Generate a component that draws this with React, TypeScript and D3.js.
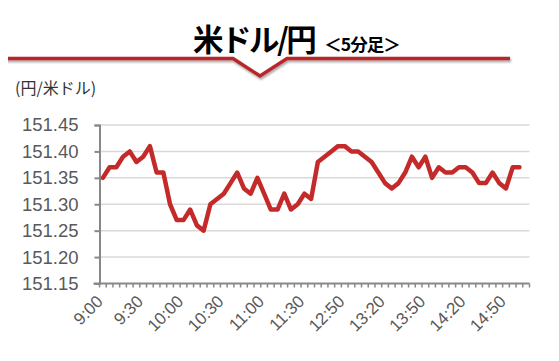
import { useEffect, useRef } from "react";
import * as d3 from "d3";

const W = 559;
const H = 361;
const RED = "#c42a2a";
const TEXT = "#595959";

// 5-minute bars, morning + afternoon sessions
const times = [
  "9:00", "9:05", "9:10", "9:15", "9:20", "9:25", "9:30", "9:35", "9:40", "9:45", "9:50", "9:55",
  "10:00", "10:05", "10:10", "10:15", "10:20", "10:25", "10:30", "10:35", "10:40", "10:45", "10:50", "10:55",
  "11:00", "11:05", "11:10", "11:15", "11:20", "11:25", "11:30", "11:35",
  "12:30", "12:35", "12:40", "12:45", "12:50", "12:55", "13:00", "13:05", "13:10", "13:15",
  "13:20", "13:25", "13:30", "13:35", "13:40", "13:45", "13:50", "13:55", "14:00", "14:05",
  "14:10", "14:15", "14:20", "14:25", "14:30", "14:35", "14:40", "14:45", "14:50", "14:55",
  "15:00", "15:05",
];

const prices = [
  151.35, 151.37, 151.37, 151.39, 151.40, 151.38, 151.39, 151.41, 151.36, 151.36,
  151.30, 151.27, 151.27, 151.29, 151.26, 151.25, 151.30, 151.31, 151.32, 151.34,
  151.36, 151.33, 151.32, 151.35, 151.32, 151.29, 151.29, 151.32, 151.29, 151.30,
  151.32, 151.31, 151.38, 151.39, 151.40, 151.41, 151.41, 151.40, 151.40, 151.39,
  151.38, 151.36, 151.34, 151.33, 151.34, 151.36, 151.39, 151.37, 151.39, 151.35,
  151.37, 151.36, 151.36, 151.37, 151.37, 151.36, 151.34, 151.34, 151.36, 151.34,
  151.33, 151.37, 151.37,
];

const yTicks = [151.15, 151.2, 151.25, 151.3, 151.35, 151.4, 151.45];
const labelEvery = 6;

export default function App() {
  const ref = useRef<SVGSVGElement>(null);

  useEffect(() => {
    const svg = d3.select(ref.current);
    svg.selectAll("*").remove();

    const left = 99.5;
    const right = 529.5;
    const top = 125;
    const bottom = 283.5;

    const x = d3.scaleBand<string>().domain(times).range([left, right]);
    const y = d3.scaleLinear().domain([151.15, 151.45]).range([bottom, top]);

    // header
    const defs = svg.append("defs");
    defs
      .append("filter")
      .attr("id", "shadow")
      .attr("x", "-5%")
      .attr("y", "-50%")
      .attr("width", "110%")
      .attr("height", "200%")
      .append("feDropShadow")
      .attr("dx", 1)
      .attr("dy", 2)
      .attr("stdDeviation", 1.2)
      .attr("flood-color", "#000")
      .attr("flood-opacity", 0.35);

    svg
      .append("path")
      .attr("d", "M4,58.5 L233,58.5 L260,76 L287,58.5 L510,58.5")
      .attr("fill", "none")
      .attr("stroke", "#b8282a")
      .attr("stroke-width", 3.5)
      .attr("filter", "url(#shadow)");

    const title = svg
      .append("text")
      .attr("x", 193)
      .attr("y", 51)
      .attr("font-family", "'Noto Sans CJK JP', sans-serif")
      .attr("fill", "#000");
    title
      .append("tspan")
      .attr("font-size", 30.5)
      .attr("font-weight", 700)
      .attr("letter-spacing", -2.5)
      .text("米ドル/円");
    title
      .append("tspan")
      .attr("dx", 10)
      .attr("font-size", 17.5)
      .attr("font-weight", 700)
      .attr("letter-spacing", -1)
      .text("＜5分足＞");

    svg
      .append("text")
      .attr("x", 15)
      .attr("y", 94)
      .attr("font-family", "'Noto Sans CJK JP', sans-serif")
      .attr("font-size", 16)
      .attr("fill", "#333")
      .text("(円/米ドル)");

    // grid
    svg
      .append("g")
      .selectAll("line")
      .data(yTicks.slice(1))
      .join("line")
      .attr("x1", left)
      .attr("x2", right)
      .attr("y1", (d) => y(d))
      .attr("y2", (d) => y(d))
      .attr("stroke", "#d9d9d9")
      .attr("stroke-width", 1.5);

    // y axis
    const yAxis = svg
      .append("g")
      .attr("transform", `translate(${left},0)`)
      .call(
        d3
          .axisLeft(y)
          .tickValues(yTicks)
          .tickSize(5)
          .tickPadding(16)
          .tickFormat((d) => d3.format(".2f")(d as number))
      );
    yAxis.select(".domain").attr("stroke", "#888").attr("stroke-width", 2);
    yAxis.selectAll(".tick line").attr("stroke", "#888").attr("stroke-width", 2);
    yAxis
      .selectAll("text")
      .attr("fill", TEXT)
      .attr("font-family", "'Liberation Sans', Arial, sans-serif")
      .attr("font-size", 18.5);

    // x axis
    const bounds = times.map((t) => x(t) as number).concat([right]);
    const xg = svg.append("g");
    xg.append("line")
      .attr("x1", left - 6)
      .attr("x2", right)
      .attr("y1", bottom)
      .attr("y2", bottom)
      .attr("stroke", "#888")
      .attr("stroke-width", 2);
    xg.selectAll("line.tk")
      .data(bounds)
      .join("line")
      .attr("class", "tk")
      .attr("x1", (d) => d)
      .attr("x2", (d) => d)
      .attr("y1", bottom)
      .attr("y2", bottom + 4)
      .attr("stroke", "#888")
      .attr("stroke-width", 1.5);

    xg.selectAll("text")
      .data(times.filter((_, i) => i % labelEvery === 0 && i <= 60))
      .join("text")
      .attr("transform", (d) => {
        const cx = (x(d) as number) + x.bandwidth() / 2 + 1;
        return `translate(${cx},${bottom + 19}) rotate(-45)`;
      })
      .attr("text-anchor", "end")
      .attr("fill", TEXT)
      .attr("font-family", "'Liberation Sans', Arial, sans-serif")
      .attr("font-size", 17)
      .text((d) => d);

    // price line
    const line = d3
      .line<number>()
      .x((_, i) => (x(times[i]) as number) + x.bandwidth() / 2)
      .y((d) => y(d))
      .curve(d3.curveLinear);

    svg
      .append("path")
      .datum(prices)
      .attr("d", line)
      .attr("fill", "none")
      .attr("stroke", RED)
      .attr("stroke-width", 4.5)
      .attr("stroke-linejoin", "round")
      .attr("stroke-linecap", "round");
  }, []);

  return (
    <div style={{ margin: -8, width: W, height: H, background: "#fff" }}>
      <svg ref={ref} width={W} height={H} style={{ display: "block" }} />
    </div>
  );
}
